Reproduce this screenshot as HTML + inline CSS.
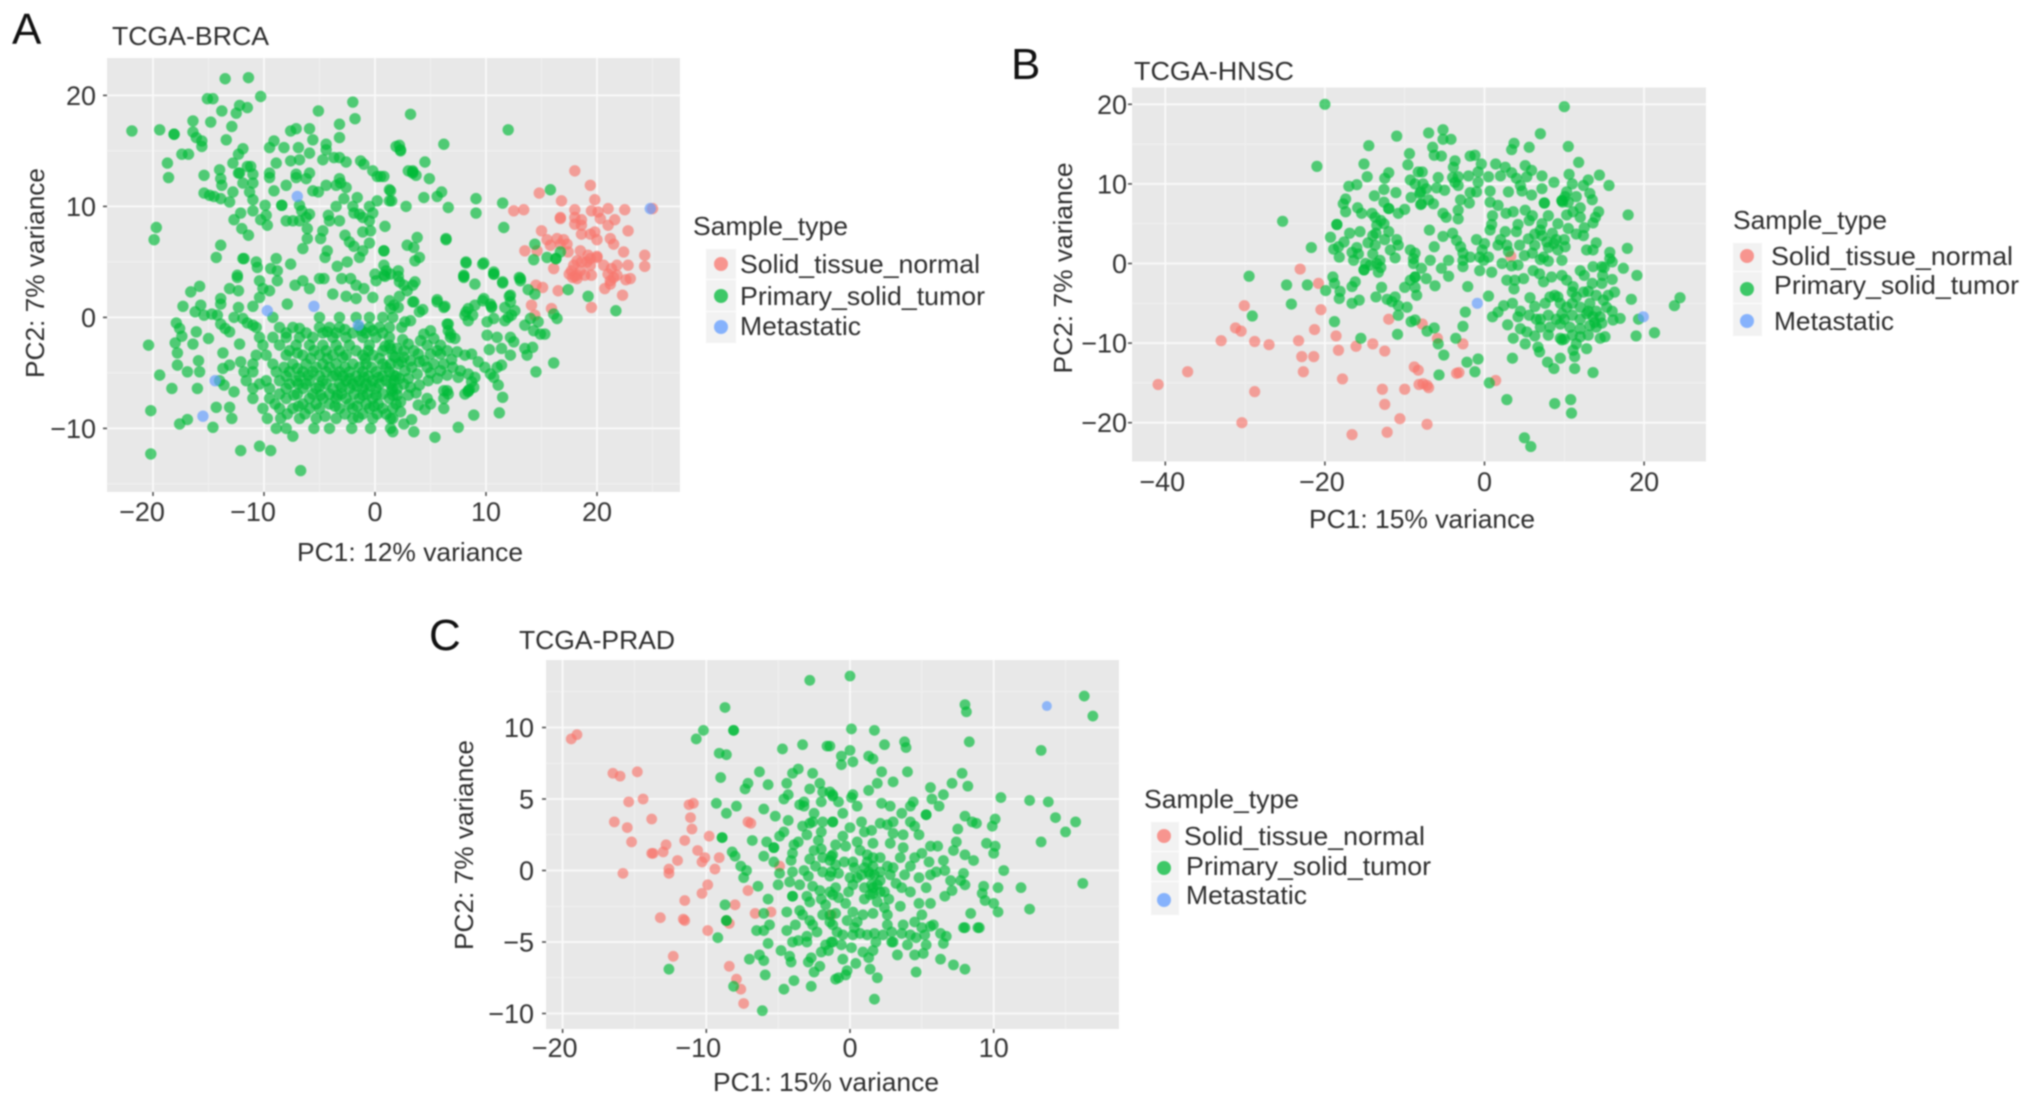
<!DOCTYPE html>
<html lang="en">
<head>
<meta charset="utf-8">
<title>PCA of TCGA samples</title>
<style>
html,body{margin:0;padding:0;background:#fff;width:2032px;height:1104px;overflow:hidden}
svg{display:block;filter:blur(0.8px)}
text{font-family:"Liberation Sans",Arial,sans-serif;fill:#2e2e2e}
.panel-letter{font-size:44px;fill:#111}
.title{font-size:26px}
.axis-title{font-size:26px;fill:#2e2e2e}
.legend-title{font-size:26px}
.legend-label{font-size:26px}
.tick-label{font-size:27px;fill:#333}
</style>
</head>
<body>
<svg xmlns="http://www.w3.org/2000/svg" width="2032" height="1104" viewBox="0 0 2032 1104">
  <rect x="0" y="0" width="2032" height="1104" fill="#fff"/>

  <text class="panel-letter" x="12" y="44">A</text>
  <text class="title" x="112" y="45" textLength="157" lengthAdjust="spacingAndGlyphs">TCGA-BRCA</text>
  <rect x="107" y="58" width="573" height="434" fill="#e8e8e8"/>
  <g id="panel-brca"></g>
  <text class="axis-title" x="410" y="561" text-anchor="middle" textLength="226" lengthAdjust="spacingAndGlyphs">PC1: 12% variance</text>
  <text class="axis-title" transform="translate(44,273) rotate(-90)" text-anchor="middle" textLength="210" lengthAdjust="spacingAndGlyphs">PC2: 7% variance</text>
  <g>
    <text class="legend-title" x="693" y="235" textLength="155" lengthAdjust="spacingAndGlyphs">Sample_type</text>
    <rect x="706" y="249" width="30" height="30" fill="#f2f2f2"/>
    <rect x="706" y="280" width="30" height="31" fill="#f2f2f2"/>
    <rect x="706" y="312" width="30" height="31" fill="#f2f2f2"/>
    <circle cx="721" cy="264" r="7" fill="#F8766D" fill-opacity="0.75"/>
    <circle cx="721" cy="296" r="7" fill="#00BA38" fill-opacity="0.75"/>
    <circle cx="721" cy="327" r="7" fill="#619CFF" fill-opacity="0.75"/>
    <text class="legend-label" x="740" y="273" textLength="240" lengthAdjust="spacingAndGlyphs">Solid_tissue_normal</text>
    <text class="legend-label" x="740" y="305" textLength="245" lengthAdjust="spacingAndGlyphs">Primary_solid_tumor</text>
    <text class="legend-label" x="740" y="335" textLength="121" lengthAdjust="spacingAndGlyphs">Metastatic</text>
  </g>

  <text class="panel-letter" x="1011" y="79">B</text>
  <text class="title" x="1134" y="80" textLength="160" lengthAdjust="spacingAndGlyphs">TCGA-HNSC</text>
  <rect x="1132" y="87.5" width="574" height="374" fill="#e8e8e8"/>
  <g id="panel-hnsc"></g>
  <text class="axis-title" x="1422" y="528" text-anchor="middle" textLength="226" lengthAdjust="spacingAndGlyphs">PC1: 15% variance</text>
  <text class="axis-title" transform="translate(1072,268) rotate(-90)" text-anchor="middle" textLength="211" lengthAdjust="spacingAndGlyphs">PC2: 7% variance</text>
  <g>
    <text class="legend-title" x="1733" y="229" textLength="154" lengthAdjust="spacingAndGlyphs">Sample_type</text>
    <rect x="1733" y="243" width="29" height="28" fill="#f2f2f2"/>
    <rect x="1733" y="272" width="29" height="31" fill="#f2f2f2"/>
    <rect x="1733" y="304" width="29" height="32" fill="#f2f2f2"/>
    <circle cx="1747" cy="256" r="7" fill="#F8766D" fill-opacity="0.75"/>
    <circle cx="1747" cy="289" r="7" fill="#00BA38" fill-opacity="0.75"/>
    <circle cx="1747" cy="321" r="7" fill="#619CFF" fill-opacity="0.75"/>
    <text class="legend-label" x="1771" y="265" textLength="242" lengthAdjust="spacingAndGlyphs">Solid_tissue_normal</text>
    <text class="legend-label" x="1774" y="294" textLength="245" lengthAdjust="spacingAndGlyphs">Primary_solid_tumor</text>
    <text class="legend-label" x="1774" y="330" textLength="120" lengthAdjust="spacingAndGlyphs">Metastatic</text>
  </g>

  <text class="panel-letter" x="429" y="650">C</text>
  <text class="title" x="519" y="649" textLength="156" lengthAdjust="spacingAndGlyphs">TCGA-PRAD</text>
  <rect x="546" y="660" width="573" height="369" fill="#e8e8e8"/>
  <g id="panel-prad"></g>
  <text class="axis-title" x="826" y="1091" text-anchor="middle" textLength="226" lengthAdjust="spacingAndGlyphs">PC1: 15% variance</text>
  <text class="axis-title" transform="translate(473,845) rotate(-90)" text-anchor="middle" textLength="210" lengthAdjust="spacingAndGlyphs">PC2: 7% variance</text>
  <g>
    <text class="legend-title" x="1144" y="808" textLength="155" lengthAdjust="spacingAndGlyphs">Sample_type</text>
    <rect x="1151" y="822" width="28" height="29" fill="#f2f2f2"/>
    <rect x="1151" y="852" width="28" height="29" fill="#f2f2f2"/>
    <rect x="1151" y="882" width="28" height="33" fill="#f2f2f2"/>
    <circle cx="1164" cy="836" r="7" fill="#F8766D" fill-opacity="0.75"/>
    <circle cx="1164" cy="868" r="7" fill="#00BA38" fill-opacity="0.75"/>
    <circle cx="1164" cy="900" r="7" fill="#619CFF" fill-opacity="0.75"/>
    <text class="legend-label" x="1184" y="845" textLength="241" lengthAdjust="spacingAndGlyphs">Solid_tissue_normal</text>
    <text class="legend-label" x="1186" y="875" textLength="245" lengthAdjust="spacingAndGlyphs">Primary_solid_tumor</text>
    <text class="legend-label" x="1186" y="904" textLength="121" lengthAdjust="spacingAndGlyphs">Metastatic</text>
  </g>
</svg>

<script>
const brcaXTicks=[-20,-10,0,10,20];
const brcaYTicks=[-10,0,10,20];
const brcaXMinor=[-15,-5,5,15,25];
const brcaYMinor=[-15,-5,5,15];
const hnscXTicks=[-40,-20,0,20];
const hnscYTicks=[-20,-10,0,10,20];
const hnscXMinor=[-30,-10,10];
const hnscYMinor=[-15,-5,5,15];
const pradXTicks=[-20,-10,0,10];
const pradYTicks=[-10,-5,0,5,10];
const pradXMinor=[-15,-5,5,15];
const pradYMinor=[-7.5,-2.5,2.5,7.5,12.5];

const brcaNormal=[[18,13.2],[19.4,11.9],[14.8,11.2],[16.8,10.5],[19.8,10.6],[12.5,9.6],[13.4,9.7],[18,9.7],[19.5,9.6],[20.1,9.5],[21,9.8],[22.5,9.7],[16.7,9],[16.7,8.9],[18,9],[18.6,8.8],[18,8.4],[20.3,8.9],[21.6,8.8],[21,8.3],[22.8,7.8],[18.6,8.3],[15,7.8],[19.8,7.7],[19.4,7.5],[21.2,7.1],[21.5,6.6],[20,7],[18.6,7.5],[15.5,7],[16.4,7.1],[17,7],[17.3,6.6],[15.8,6.5],[16.7,6.6],[13.5,6],[14.6,6],[17.4,5.9],[18.5,6],[19.2,5.6],[20,5.5],[19.1,5],[20.6,4.7],[21.3,4.4],[21.8,4.7],[22.4,5.9],[22.8,4.7],[24.3,5.6],[24.3,4.6],[17.9,4.7],[17.7,4.2],[16.1,4.4],[19.4,5.3],[20,5.4],[18.2,5.1],[18.6,5],[19.4,4.7],[17.8,3.6],[17.5,3.9],[18,3.7],[18.2,3.8],[18.2,3.5],[18.5,4.2],[18.9,3.8],[19.5,3.8],[21,3.9],[21.8,3.8],[22.6,3.4],[21.2,3],[21.5,3.6],[21.2,3.3],[20.7,2.6],[23,3.5],[22.3,2],[19.5,0.9],[14.5,2.9],[15.1,2.7],[16.5,2.4],[14.1,1.1],[15.9,0.8],[14.4,0.2],[25,9.8]];

const brcaTumor=[[-21.9,16.8],[-19.4,16.9],[-18.1,16.5],[-18.1,16.5],[-16.4,17.7],[-16.4,16.7],[-16.1,16.2],[-15.6,15.9],[-15.6,15.4],[-17.4,14.7],[-16.8,14.7],[-18.7,13.9],[-18.6,12.6],[-19.7,8.1],[-19.9,7],[-13.5,21.5],[-11.4,21.6],[-15.1,19.7],[-14.6,19.7],[-10.3,19.9],[-13.8,18.6],[-12.5,18.4],[-12.2,19.1],[-11.5,18.9],[-14.8,17.6],[-12.9,17.2],[-13.4,16],[-15.4,12.8],[-14,13.3],[-13.9,12.5],[-13.8,11.9],[-15.4,11.2],[-14.9,11],[-14.5,10.9],[-13.9,10.7],[-13.1,10.4],[-12.8,11.3],[-12.3,14.7],[-11.9,15.2],[-12.8,13.9],[-12.3,13],[-11.5,13.6],[-11.2,13.6],[-12.2,13],[-11.9,12.1],[-11,12.9],[-11,12.1],[-11.3,11.3],[-11,10.6],[-12.1,9.4],[-12.7,8.8],[-11,9.6],[-10.3,8.8],[-9.9,10.1],[-9.8,9.2],[-9.7,8.3],[-12,8],[-11.4,7.4],[-13.9,6.5],[-14.3,5.4],[-11.9,5.3],[-11.8,5.3],[-10.7,5],[-10.6,4.5],[-9.4,4.4],[-8.9,5.3],[-7.6,4.8],[-8.8,4.2],[-12.4,3.8],[-9.5,15.3],[-9.1,15.9],[-8.2,15.3],[-6.9,15.3],[-5.9,17],[-5.6,16],[-5.9,14.8],[-7.1,17],[-7.6,16.8],[-4.4,15.6],[-4.4,15.1],[-4.7,14.2],[-3.7,14.4],[-3.2,14.4],[-2.6,14],[-8.9,13.9],[-9.5,13],[-9.5,12.6],[-7.6,14.1],[-6.8,14.2],[-7.1,12.6],[-7.1,12.9],[-5.9,13],[-6.2,12.5],[-8,11.9],[-9.1,11.4],[-5.6,11.4],[-5.1,11.3],[-4.4,11.9],[-3.5,11.9],[-3.2,12.5],[-3.1,12.1],[-2.6,11.7],[-8.4,10.1],[-8.4,10.1],[-6.8,10.1],[-6.6,9.6],[-5.9,9.3],[-6.8,8.7],[-7.4,8.7],[-8,8.7],[-6.2,9],[-2.8,10.7],[-3.5,10],[-2,10],[-1.6,10.8],[-1.9,9.4],[-1.4,9.3],[-1.1,9],[-0.5,8.7],[-0.2,9.4],[0.2,10.5],[1.3,11.5],[1.3,10.5],[-0.5,10],[0.9,8.2],[-4.2,9.2],[-4.1,8.7],[-3.2,8.7],[-6.1,8],[-6.1,7.1],[-4.7,7.8],[-4.9,7.1],[-6.5,6.2],[-2.7,7.4],[-2.3,6.8],[-1.9,6.4],[-1.1,6],[-0.5,6.7],[-1.1,7.7],[-0.4,7.8],[0.8,6],[0.8,6],[-1.4,5.4],[-4.3,6],[-4.5,5.4],[-3.4,4.6],[-2.5,5],[0,3.9],[0.8,4.7],[1,4.2],[-5.1,18.6],[-2,19.4],[-1.8,17.9],[-3.2,17.4],[-3.2,16.2],[-1.3,14.1],[-1,13.8],[-0.2,13.2],[0.2,12.7],[0.8,12.7],[0.5,12.7],[1.9,15.4],
[3.2,18.3],[2.2,15.5],[2.3,15.1],[2.3,15],[6.2,15.6],[4.5,14],[3,13.2],[3.4,13.2],[3.4,13.1],[3.4,13],[3.7,12.8],[4.9,12.5],[6,11.3],[5.6,10.9],[4.4,10.8],[2.8,10],[1.4,11.4],[1.5,10.5],[6.6,9.9],[9.1,10.7],[9.1,9.4],[11.5,10.3],[11.6,8.1],[12,16.9],[15.8,11.5],[6.4,7.1],[6.4,7],[3.8,7.2],[2.9,6.5],[3.5,6.3],[4,5.4],[3.6,5.1],[8.2,5],[9.8,4.9],[10.7,4.1],[2.1,4.2],[8,3.8],[13,3.6],[14.4,6.6],[14.3,5.2],[15.5,5.4],[16.3,5.3],[16.3,5.3],[16.7,5.9],
[17.4,2.5],[19.2,1.9],[21.7,0.6],[14.4,2.1],[13.8,2.5],[13.1,3.5],[11.5,3.2],[10.7,3.9],[9,3],[8,3.7],[12.2,2],[12.2,1.4],[12.6,0.6],[12,0],[12.3,0.2],[11.7,-0.3],[16.1,0.3],[16.4,-0.1],[14.7,-0.4],[14,-0.1],[13.5,-0.7],[14.3,-1.2],[15.3,-1.5],[14.9,-1.5],[9.8,1.7],[10.4,1.2],[10.5,0.9],[8.4,0.8],[9,1.1],[8.1,0.2],[8.4,-0.3],[10.1,-0.4],[10.7,-0.1],[10.1,-1.6],[11,-1.8],[12.2,-1.8],[12.5,-2.2],[10.3,-2.9],[11.4,-2.8],[12.2,-3.4],[13.5,-2.8],[14.2,-2.7],[13.7,-3.4],[16.1,-4.1],[14.5,-4.9],[3.5,1.4],[4.3,0.7],[5.6,1.6],[6.3,1],[2.2,3.2],[3.6,3.2],[2.9,2.4],[1.7,1.1],[2.1,0.9],[2.7,-0.4],[3.2,-0.3],[2.4,-0.9],[6.5,-0.6],[6.6,-1.2],
[4.4,-1.5],[5,-1.2],[4.1,-2.1],[5.3,-1.9],[4.7,-2.5],[5.9,-2.5],[6.8,-1.8],[7.2,-1.9],[6.5,-3],[5.9,-3.3],[5,-3.3],[3.9,-3.3],[4.4,-3.9],[3.5,-3],[2.6,-3],[2,-2.8],[1.4,-2.8],[1.8,-3.6],[2.6,-3.6],[3.2,-3.9],[2.1,-4.2],[1.4,-4.2],[2.7,-4.8],[1.7,-5.2],[3.8,-5.1],[4.7,-4.5],[5.3,-4.2],[5.9,-4.8],[5.6,-5.5],[4.8,-5.7],[4,-6.1],[3.2,-6.3],[2.6,-6],[2,-6.4],[1.5,-6.6],[7.4,-3.1],[8.1,-3.4],[8.7,-3.3],[9.3,-4],[7.7,-4.8],[7.5,-5.4],[8.4,-5.1],[9,-5.4],[8.7,-5.8],[9.9,-4.5],[10.4,-5.1],[11,-4.5],[11.4,-4.3],[10.7,-5.4],[8.4,-6.6],[8.5,-6.5],[8.4,-6.7],[8.9,-6.3],[8.1,-6.9],[11.1,-6.1],[11.5,-7.2],[6.2,-6.6],[6.6,-6.9],[6.2,-7.3],[6.5,-6.6],[4.7,-7.3],[5,-7.8],[4.5,-8.3],[6.2,-8.2],[3.9,-7.9],[2.3,-7.6],[2.3,-8.5],[1.6,-9.1],[3.3,-9.2],[2.6,-9.6],[3.5,-10.3],[1.6,-10.3],[5.4,-10.8],[7.5,-9.9],[8.9,-8.8],[11.2,-8.6],[3,-2.4],[5.6,-3],[6.9,-3.8],[7,-4.5],[6.5,-5.2],[6.2,-4.2],[3.3,-4.5],[4,-4],[2.2,-5.5],[3,-5.5],[5,-5],[2,-7],[3,-7],[3.7,-6.8],[2.5,-2],
[2.1,3.7],[3.4,2.9],[2.6,2.9],[1.4,3.9],[0.9,3.7],[2.2,1.9],[3.4,1.4],[4,0.5],[5.6,1.4],[6.2,0.9],[8.2,4.9],[9.7,4.8],[10.7,3.9],[11.5,3.1],[8,3.6],[13.1,3.3],[9.7,1.5],[10.5,1],[8.2,0.5],[8.8,0.2],[11.7,0.9],[12.1,1.9],[6.6,-0.6],[6.8,-1.5],
[-20.4,-2.5],[-19.4,-5.2],[-18.3,-6.4],[-20.2,-8.4],[-20.2,-12.3],[-17.6,-9.6],[-16.9,-9.2],[-14.3,-8.1],[-13.1,-8.1],[-12.9,-9.1],[-14.6,-9.9],[-12.1,-12],[-10.4,-11.6],[-9.4,-12],[-7.4,-10.7],[-6.7,-13.8],[-15.8,2.8],[-16.6,2.3],[-13.1,2.6],[-12.3,2.4],[-13.9,1.7],[-13.9,1.2],[-17.3,1],[-15.7,1.1],[-16.2,0.5],[-15.4,0.2],[-14.7,0.3],[-14.2,0.2],[-12.3,0.9],[-12.7,0],[-11,1],[-17.9,-0.5],[-17.6,-1],[-17.4,-1.7],[-18,-2.3],[-17.8,-3.2],[-16.1,-1.3],[-15,-1.9],[-16.4,-2.4],[-13.7,-3.2],[-13.9,-0.6],[-13.5,-1],[-13.1,-1.3],[-12.2,-2.4],[-11.9,-0.1],[-11.5,-0.5],[-11,-0.7],[-15.9,-3.9],[-17.8,-4.3],[-16.9,-4.9],[-15.8,-4.9],[-13.7,-4.6],[-13.1,-4.3],[-12.1,-4],[-16,-6.4],[-13.6,-6.1],[-12.7,-6.7],[-14,-5.7],[-12.4,3.6],[-10.4,3.3],[-8.8,3.3],[-10.1,2.6],[-9.5,2.4],[-10.4,1.8],[-7.9,1.2],[-7.2,2.9],[-6.5,3.3],[-5.9,2.6],[-5,3.5],[-4.6,3.5],[-3.8,2.1],[-2.6,1.9],[-1.7,1.7],[-3,3.5],[-2.2,3.5],[-1.7,2.9],[-1,2.6],[-0.2,1.8],[0.8,3.8],[0.1,3.3],[1.3,1.5],[1.4,0.8],
[-9.2,0],[-5,0],[-3.2,0],[-1.7,0],[-0.5,0],[0.7,0],[1.6,0],
[-10.7,-0.9],[-8.6,-0.9],[-7.4,-0.9],[-5,-0.9],[-4.1,-0.9],[-3.2,-0.9],[-1.4,-0.9],[-0.5,-0.9],[0.4,-0.9],[1.3,-0.9],
[-10.4,-1.8],[-9.2,-1.8],[-8,-1.8],[-6.8,-1.8],[-5.6,-1.8],[-3.8,-1.8],[-2.6,-1.8],[-1.1,-1.8],[0.1,-1.8],[1.3,-1.8],
[-10.1,-2.5],[-8.6,-2.5],[-7.1,-2.5],[-5.9,-2.5],[-4.7,-2.5],[-3.5,-2.5],[-2.3,-2.5],[-0.5,-2.5],[1.3,-2.5],
[-10.7,-3.4],[-9.8,-3.4],[-8,-3.4],[-6.5,-3.4],[-5,-3.4],[-3.8,-3.4],[-2.6,-3.4],[-1.1,-3.4],[-0.2,-3.4],[1.6,-3.4],
[-11,-4.2],[-9.2,-4.2],[-7.4,-4.2],[-6.2,-4.2],[-4.7,-4.2],[-3.5,-4.2],[-2,-4.2],[-0.8,-4.2],[0.7,-4.2],
[-11.8,-4.9],[-11,-4.9],[-8.9,-4.9],[-7.7,-4.9],[-6.5,-4.9],[-5.6,-4.9],[-4.4,-4.9],[-3.2,-4.9],[-2.3,-4.9],[-1.1,-4.9],[0.1,-4.9],[1.3,-4.9],
[-11.6,-5.7],[-9.8,-5.7],[-8.6,-5.7],[-7.1,-5.7],[-5.9,-5.7],[-4.7,-5.7],[-2.6,-5.7],[-1.4,-5.7],[-0.2,-5.7],[1,-5.7],[1.7,-5.7],
[-11,-6.4],[-9.5,-6.4],[-8,-6.4],[-6.5,-6.4],[-5.3,-6.4],[-3.8,-6.4],[-2.3,-6.4],[-1.1,-6.4],[0.1,-6.4],[1.6,-6.4],
[-11,-7.3],[-9.5,-7.3],[-8,-7.3],[-5.9,-7.3],[-4.7,-7.3],[-3.5,-7.3],[-2.6,-7.3],[-1.4,-7.3],[-0.2,-7.3],[1.3,-7.3],
[-10.1,-8.2],[-8.6,-8.2],[-7.4,-8.2],[-5.9,-8.2],[-5,-8.2],[-3.2,-8.2],[-2,-8.2],[-0.5,-8.2],[0.7,-8.2],[1.6,-8.2],
[-9.7,-9.1],[-8.5,-9.1],[-6.8,-9.1],[-5.3,-9.1],[-3.5,-9.1],[-2,-9.1],[-0.2,-9.1],[1.4,-9.1],
[-8.9,-10],[-8,-10],[-5.5,-10],[-4.1,-10],[-2.1,-10],[-0.4,-10],[1.4,-10],
[-8,-1.4],[-6.2,-1.4],[-4.7,-1.4],[-3.5,-1.4],[-2,-1.4],[-0.8,-1.4],[0.7,-1.4],
[-7.7,-3],[-5.5,-3],[-4.4,-3],[-3.2,-3],[-1.7,-3],[-0.6,-3],[0.7,-3],
[-8.2,-4.5],[-5.3,-4.5],[-4.1,-4.5],[-2.7,-4.5],[-1.4,-4.5],[-0.3,-4.5],[1,-4.5],
[-8,-5.3],[-6.8,-5.3],[-5,-5.3],[-3.8,-5.3],[-2.9,-5.3],[-1.7,-5.3],[-0.6,-5.3],[0.7,-5.3],[1.9,-5.3],
[-10.4,-6],[-7.7,-6],[-6.2,-6],[-4.4,-6],[-3.2,-6],[-2,-6],[-0.8,-6],[0.4,-6],[1.4,-6],
[-8.6,-6.9],[-7,-6.9],[-5.6,-6.9],[-4.1,-6.9],[-3,-6.9],[-1.9,-6.9],[-0.7,-6.9],[0.7,-6.9],
[-9,-7.8],[-6.5,-7.8],[-5.3,-7.8],[-4.1,-7.8],[-2.3,-7.8],[-0.8,-7.8],[0.3,-7.8],[1.9,-7.8],
[-7.9,-8.7],[-6.3,-8.7],[-2.7,-8.7],[-1.1,-8.7],[0.2,-8.7],[1,-8.7],
[-6.8,-1],[-4.3,-1.3],[-2.7,-1.1],[-1.2,-1.2],[-0.2,-1.2],[-7,-3.2],[-5.8,-3.7],[-4.3,-3.7],[-2.9,-3.6],[-0.9,-3.7],[0.4,-3.7],[-7,-4.6],[-6,-5.2],[-3.5,-5.2],[-2.3,-5.5],[-1,-5.4],[0.3,-5.4],[-6.9,-6],[-5,-6.2],[-3,-6.3],[-1.6,-6.2],[-0.4,-6.2],[-7.3,-7],[-4.9,-7],[-3.4,-7],[-1.1,-7],[0.1,-7],[-6.9,-8],[-3.6,-8],[-1.6,-8],[-0.1,-8],[-4.5,-8.9],[-1.5,-9],[1.6,-7],[2.4,-4],[0.9,-2.6]];

const brcaMetastatic=[[-7,10.9],[-9.7,0.6],[-5.5,1],[-1.5,-0.7],[-14.4,-5.7],[-15.5,-8.9],[24.8,9.8]];

const hnscNormal=[[-40.9,-15.2],[-37.2,-13.6],[-33,-9.7],[-31.2,-8.1],[-30.5,-8.5],[-30.1,-5.3],[-28.8,-9.8],[-27,-10.2],[-28.8,-16.1],[-30.4,-20],[-23.1,-0.7],[-20.8,-2.5],[-20.5,-5.8],[-21.3,-8.3],[-23.3,-9.7],[-22.9,-11.7],[-21.4,-11.7],[-22.7,-13.6],[-18.6,-9.1],[-18.3,-10.9],[-17.8,-14.5],[-16.1,-10.4],[-14,-10.1],[-12.5,-11],[-12,-7],[-12.8,-15.8],[-12.5,-17.7],[-10.6,-19.5],[-16.6,-21.5],[-12.2,-21.2],[-10,-15.8],[-8.8,-13],[-8.3,-13.4],[-8.2,-15.2],[-7.8,-7.6],[-5.9,-9.4],[-2.7,-10.1],[-3.5,-13.8],[-3.2,-13.7],[-7.7,-15.1],[-7,-15.6],[-7.2,-15.3],[1.4,-14.7],[-7.2,-20.2],[3.3,0.9]];

const hnscTumor=[[-20,20],[-11,16],[-14.5,14.8],[-9.4,13.8],[-15.1,12.5],[-21,12.2],[-9.6,12.4],[-8.3,11.5],[-12,11.4],[-12.5,10.7],[-14.7,10.9],[-9.3,10.5],[-8.7,10],[-16,9.9],[-17,9.7],[-12.6,9.3],[-11.1,8.9],[-8,9],[-9.2,8.3],[-13.8,8.5],[-17.4,8.1],[-17.7,7.5],[-12.6,7.7],[-8,7.4],[-17.4,6.5],[-15.9,7],[-15.4,6.3],[-14.1,6.3],[-12,6.9],[-12,6.9],[-10.8,6.3],[-10,6.8],[-13.7,5.8],[-13,5.4],[-12.6,5],[-13.5,4.8],[-25.3,5.3],[-18.5,4.9],[-18.5,4.9],[-13.6,3.8],[-15.6,4],[-16.9,3.8],[-19.3,3.3],[-17.6,2.7],[-18.3,2.1],[-18.9,1.8],[-21.7,2],[-18.2,0.8],[-16.6,1.4],[-15.8,1.2],[-16.4,0.4],[-14.6,2.6],[-13.7,2.3],[-11.8,1.7],[-10.8,2.3],[-9.3,1.7],[-8.7,1.3],[-11.2,0.7],[-8.9,0.6],[-8.9,0],[-14.9,0],[-14.3,-0.2],[-15.1,-0.8],[-15.1,-0.8],[-13.1,0.4],[-13.3,-1.1],[-13.5,0],[-19,-1.7],[-18.8,-2.5],[-16.6,-2.9],[-16.2,-2.3],[-18.1,-3.5],[-18.2,-4.4],[-16.6,-5],[-15.7,-4.6],[-12.9,-3],[-13.6,-4.2],[-12.2,-4.5],[-11.2,-4.2],[-11.6,-4.8],[-10.8,-5.3],[-9.7,-5.5],[-10.8,-6.5],[-9.3,-2.1],[-8.7,-1.7],[-8.7,-1.7],[-8.7,-3],[-8.5,-4],[-29.5,-1.6],[-24.8,-2.7],[-22.2,-2.7],[-19.9,-3.4],[-24.2,-5.1],[-29.1,-6.6],[-18.8,-7.3],[-15.5,-9.4],[-10.9,-8.9],[-9.2,-7.3],[-8.7,-7.1],
[10,19.7],[-7,16.4],[-5.2,16.8],[-5.2,15.6],[-4.2,15.6],[7,16.3],[3.7,15.1],[3.4,14.3],[5.6,14.6],[10.5,14.7],[-6.5,14.6],[-6.3,13.6],[-5.4,13.5],[-1.8,13.5],[-1.2,13.6],[11.8,12.7],[-0.4,12.5],[1.4,12.5],[2.6,12.1],[-3.7,12.9],[-3.9,12.1],[-0.8,11.5],[-7.8,11.5],[5.1,12.3],[5.9,11.7],[3.4,11.4],[4,10.7],[5.3,10.9],[7.2,11],[0.5,10.9],[10.6,11.2],[14.4,11.1],[13,10.5],[8.7,10.2],[15.6,9.8],[-5.8,10.8],[-3.3,10.9],[-3.7,10.2],[-3.3,9.8],[-0.8,10.2],[-7.7,10],[-7.3,9.4],[-8.1,8.8],[-5,9.2],[4.5,9.8],[4.7,9.1],[5.9,8.6],[7.2,9.4],[0.7,9.1],[-1.8,8.9],[12.4,9.8],[13.2,8.8],[11.5,8.4],[10.3,9],[-1.9,7.6],[0.7,7.7],[1.7,7.3],[7.5,7.6],[7.5,7.6],[9.7,7.9],[9.7,7.9],[9.8,7.7],[10.1,8.4],[10.5,7.7],[-6.4,7.5],[-7.9,7.5],[-5.2,6.3],[-4.8,5.8],[-3.3,6.7],[-3.3,5.6],[2.7,6.3],[3.6,6.5],[5.1,6.7],[5.6,5.4],[14.3,6.5],[13.9,5.8],[13.6,5.1],[18,6.1],[11.1,6.5],[10.3,6.1],[12,5.8],[9.2,5],[10.5,4.4],[7.2,5],[0.9,4.9],[0.7,4.2],[2.6,4],[4.2,4.9],[4,4],[6.3,3.7],[7.2,3.5],[12.4,3.5],[11.5,3.7],[-6.9,4.2],[-5.2,3.4],[-4,3.8],[-3.5,2.9],[-6.3,2.1],[-3,2.1],[-2.7,1.3],[17.9,1.9],[-0.3,1.7],[-0.6,0.8],[0.5,0.8],[-0.1,0.4],[1.7,2.3],[2.8,2.3],[4.4,2.3],[5.5,3.1],[6.3,2.3],[7.8,2.7],[8.7,2.5],[10.1,2.1],[9.2,1.7],[7.4,0.8],[9.7,0.4],[12.8,1.7],[13.6,1.7],[15.7,1.4],[15.7,0.6],[-2.7,0.4],[-1.8,0.8],[-4.5,0.4],[-6.8,0.4],[2.2,0],[3.4,-0.3],[4.2,-0.2],[6.1,-0.9],[6.9,-1.3],[8.4,-1.7],[9.7,-1.5],[10.3,-2.1],[12,-0.9],[13.6,-0.4],[14.7,-0.4],[16,0.2],[17.4,-0.6],[19.1,-1.5],[14.8,-1.5],[14.7,-2.5],[-2.7,-0.4],[-5.4,-0.6],[-4.5,-1.6],[-0.6,-0.9],[0.9,-1.1],[-7.9,-0.6],[-7.3,-1.9],[-6.2,-2.8],[-2.1,-2.9],[2.8,-2.1],[3.8,-2.1],[4.9,-1.9],[7.4,-2.3],[3.7,-3.2],[8.8,-4],[9.2,-4.2],[11.1,-2.9],[12.4,-3.6],[11.5,-4.2],[16.3,-3.6],[18.4,-4.5],[14.9,-4.6],[15.3,-5.5],[0.5,-4.1],[2.4,-5.3],[1.7,-6.1],[1,-6.7],[5.7,-4.3],[6.3,-5.4],[5.6,-6.5],[7.6,-5],[8.2,-4.2],[9.7,-6.3],[10.3,-5.5],[13.2,-5],[12.8,-6.3],[13.6,-6.7],[14.5,-6.7],[14.7,-7.5],[16.1,-7.1],[17,-6.9],[-2.4,-6.1],[-2.7,-7.9],[4.2,-6.7],[2.9,-7.7],[4.5,-8.2],[5.3,-8.6],[7,-8],[8.2,-8],[9.5,-7.6],[10.7,-8],[12,-8.2],[13.2,-7.8],[13.8,-7.4],[3.6,-9.4],[6.3,-9.1],[9.5,-9.4],[9.7,-9.6],[23.8,-5.3],[24.5,-4.3],[19.3,-7],[19,-9.1],[21.3,-8.7],[14.5,-9.4],[15.1,-9.2],[11.5,-10.1],[12.8,-10.7],[11.1,-10.9],[11.3,-11.7],[6.7,-10.5],[6.9,-11.1],[5.1,-10.1],[9.5,-11.9],[7.9,-12.4],[8.7,-13.2],[11.3,-13.2],[13.6,-13.7],[3.5,-11.9],[-6.3,-8.1],[-7.2,-8.5],[-5.8,-10.1],[-5.1,-11.5],[-3.6,-9.4],[-2.2,-12.4],[-0.8,-12],[-1.2,-13.6],[-5.7,-14],[0.6,-15],[2.8,-17.1],[8.8,-17.6],[10.8,-17.1],[10.9,-18.8],[5,-21.9],[5.8,-23],
[11,-5],[12,-5.5],[13,-6],[14,-6],[12,-7],[10,-7],[11,-6.5],[9,-7],[8,-6.5],[7,-7],[6.5,-7],[9.5,-5],[11,-3.6],[13,-3.5],[14,-4],[13.5,-2.5],[12.5,-1.5],[7,0.5],[8,0.3],[5,1],[6,1.3],[8,2],[9,3],[8.5,3.8],[10,3],[3,1.5],[-1,3],[-11,3],[-12,4],[-10,-3],[-16,2],[-14,1.2],[-13,-0.5],[-14,3.5],[-12.5,3],[-7,8],[-6,9.5],[-3,8],[-4,10.8],[-2,11],[-1,9],[2,11],[3,9],[1,6],[2,3],[0,2.5],[6,6],[8,6],[7,4.2],[11,10],[12,7],[13.5,8],[12.5,4.5],[14,2.6],[15,-0.5],[16,-2],[15.5,-4],[14,-8],[16,-6],[3.5,-5],[4.5,-6],[8,-9],[11,-9],[13,-9],[10,-9.5],[12,-9.2]];

const hnscMetastatic=[[-0.9,-5],[19.9,-6.7]];

const pradNormal=[[-19.4,9.2],[-19,9.5],[-16.5,6.8],[-16,6.6],[-14.8,6.9],[-15.4,4.8],[-14.4,5],[-16.4,3.4],[-15.5,3],[-13.8,3.6],[-15.2,2],[-15.8,-0.2],[-13.8,1.2],[-13.7,1.2],[-13,1.3],[-12.8,1.8],[-12,0.7],[-12.6,0.1],[-12.6,-0.2],[-11.5,2.1],[-9.8,2.4],[-11.2,4.6],[-10.9,4.7],[-11.1,3.7],[-11,2.9],[-10.6,1.4],[-10.1,0.9],[-10.3,0.6],[-9.1,0.9],[-9.4,0.1],[-9.9,-1],[-10.3,-1.6],[-11.5,-2.1],[-13.2,-3.3],[-11.6,-3.4],[-11.5,-3.5],[-9.9,-4.2],[-8,-2.4],[-8.6,-3.5],[-8.4,-3.7],[-7.1,-1.4],[-6.6,-3],[-5.5,-2.9],[-7.1,3.4],[-6.9,3.3],[-4.9,0.3],[-12.3,-6],[-8.4,-6.7],[-7.9,-7.6],[-7.6,-8.3],[-7.4,-9.3],[-1.3,-3.1]];

const pradTumor=[[-2.8,13.3],[-8.7,11.4],[-10.2,9.8],[-10.7,9.2],[-8.1,9.8],[-8.1,9.8],[-9.1,8.2],[-8.6,8.1],[-9,6.5],[-4.7,8.5],[-3.3,8.8],[-1.6,8.7],[-6.3,6.9],[-7.1,6.1],[-7.3,5.7],[-5.7,6],[-4.4,6.1],[-4,6.8],[-3.6,7.1],[-2.6,6.8],[-2.8,5.7],[-2.1,6.1],[-1.9,5.5],[-1.4,5.5],[-1.2,5.2],[-4.6,5],[-4.3,5.3],[-9.3,4.7],[-8.6,4],[-7.9,4.5],[-6,4.3],[-5.2,3.8],[-3.5,4.6],[-3.2,4.5],[-2.5,4],[-2.6,3.4],[-1.9,3.4],[-1.2,3.4],[-4.6,2.7],[-4.9,2.4],[-3.3,3.1],[-2.8,3.3],[-2,2.7],[-2.2,2.1],[-8.9,2.3],[-8.9,2.3],[-6.8,2.1],[-5.3,1.6],[-5.3,1.6],[-3.9,1.8],[-4,1.2],[-2.5,1.4],[-8.2,1.3],[-8,1],[-7.6,0.3],[-7.2,0],[-7.4,-0.5],[-5.3,0.6],[-4.1,0.7],[-4,-0.1],[-4.9,-0.2],[-1.9,0.9],[-1.4,0.7],[-1.2,1.1],[-2.4,0.3],[-2.9,-0.4],[-2.6,-1.1],[-2.1,-1.4],[-1.3,-0.1],[-1.9,-0.1],[-1.2,-1.7],[-6.4,-1.1],[-4,-1.8],[-4,-1.8],[-2.8,-2.2],[-8.7,-2.4],[-8.6,-3.5],[-8.6,-3.5],[-4.4,-2.9],[-3.5,-2.8],[-3.3,-3.1],[-2.8,-3.5],[-2.3,-4.3],[-1.7,-2.4],[-1.9,-3.1],[-1.2,-3.8],[-1.4,-3.1],[-2.6,-3.8],[-6.5,-4.2],[-6,-4.2],[-5.6,-3.8],[-5.7,-5.1],[-9.2,-4.7],[-12.6,-6.9],[-4,-5],[-3.6,-4.9],[-4.8,-5.6],[-7,-6.2],[-6.3,-5.9],[-6,-6.3],[-4.2,-6],[-4.1,-6.4],[-2.9,-6.4],[-2.7,-6.1],[-2.1,-6.7],[-2.5,-7.1],[-2,-5.7],[-1.7,-5.2],[-1.2,-5],[-1,-7.6],[-5.9,-7.3],[-3.9,-7.7],[-4.6,-8.3],[-2.7,-8.1],[-8.1,-8.1],[-6.1,-9.8],
[0,13.6],[8,11.6],[8.1,11.1],[16.3,12.2],[16.9,10.8],[0.1,9.9],[1.7,9.8],[2.4,8.8],[3.8,9],[3.9,8.6],[8.3,9],[13.3,8.4],[-1.4,8.7],[0,8.4],[-0.6,8],[-0.6,7.4],[0.2,7.6],[1.3,8],[1.6,7.8],[2.2,6.9],[4,6.9],[3,6.2],[1.9,6.1],[1.3,5.6],[7.8,6.8],[7.1,6.1],[8.2,5.9],[5.6,5.8],[6.5,5.3],[5.7,5],[6.2,4.5],[10.5,5.1],[12.5,4.9],[13.8,4.8],[14.3,3.7],[15.7,3.4],[15,2.7],[13.3,2],[0.2,5.3],[0.1,5.1],[-1.2,5.3],[-0.8,4.8],[2.2,4.7],[2.8,4.5],[4.4,4.8],[4.2,4.5],[5.3,3.9],[5.3,3.9],[8,3.8],[8.5,3.4],[8.8,3.3],[7.5,2.9],[10.1,3.6],[9.9,3.1],[3.6,4],[3,3.4],[2.6,3.2],[2.1,3.3],[1.5,2.8],[0.8,3.4],[1,2.7],[4.2,3.4],[4.5,3.1],[4.8,2.5],[-1.2,3.4],[-0.5,2.4],[-0.3,1.7],[-1.3,1],[-1,0.4],[-0.8,-0.2],[-1.4,-0.4],[7.4,2],[7.2,1.4],[8,1.1],[8.6,0.7],[6.5,0.7],[5.6,1.7],[6.1,1.7],[5.5,0.6],[5.6,-0.3],[6,-0.1],[9.5,1.9],[10.1,1.7],[10,1.2],[10.7,0],[7.9,-0.2],[7.7,-0.7],[8,-1],[7,-0.7],[6.6,-1.8],[11.9,-1.2],[10.3,-1.2],[9.3,-1.1],[9.2,-1.6],[9.4,-2.1],[10,-2.3],[10.3,-2.9],[16.2,-0.9],[12.5,-2.7],[8.4,-3],[7.9,-4],[9,-4],[8,-4],[8.9,-4],[5.8,-3.8],[6.3,-4.4],[6.7,-4.6],[6.5,-5.1],[6.3,-6.2],[7.2,-6.6],[8,-6.9],[4.6,-7.1],[3.3,-5.9],[4.5,-5.9],[5.1,-5.8],[-0.8,-7.5],[-0.2,-7],[-0.3,-7.3],[1.9,-7.5],[1.4,-6.9],[1.7,-9],
[1.6,0.9],[1.2,1.1],[2.1,0.9],[3,0.2],[3.5,0.9],[3.7,1.6],[4.2,0.3],[4.5,0.9],[0.7,1.4],[0.2,0.6],[0.3,0.2],[1.3,-0.1],[1.7,-0.3],[2.1,-0.7],[1.5,-1],[1,-1.2],[1.6,-1.6],[2.4,-1.5],[3.2,-0.9],[4.2,-1.5],[5.3,-1.2],[5.6,-2.3],[5,-3.1],[4.8,-2.3],[3.5,-2.5],[2.6,-3.1],[2.4,-2.6],[1.6,-3],[0.9,-3.1],[0.2,-2.9],[-0.3,-2.3],[-0.1,-1.5],[0.2,-1],[-1,-1.2],[-0.8,-1.9],[-1.4,-1.5],[1.4,-0.3],[1.6,-1.2],[2.1,-0.1],[1.2,0.6],[1.6,0.3],[1.9,-1],[1.4,-1.7],[2.1,-1.5],
[-1.4,-3.6],[-0.9,-4.3],[-0.5,-4.5],[0.2,-4.5],[0.7,-4.4],[1.2,-4.5],[1.7,-4.4],[2.3,-4.5],[2.9,-4.3],[3.7,-3.8],[4.2,-4.5],[4.6,-4.7],[5.2,-4.5],[5.3,-5.2],[5.6,-3.9],[-1.3,-5],[-0.6,-5.2],[0.1,-5.4],[0.9,-5.7],[1.6,-5.6],[1.3,-6.1],[2.9,-5],[3.6,-4.4],
[0.5,-0.5],[1,0.2],[2.6,0.3],[2.8,-0.3],[1,-2],[1.9,-2.2],[2.7,-2],[3.6,-1.2],[0.8,-0.3],[0,-0.5],[-0.4,0.6],[-1,1.8],[-2,1.5],[-2.8,0.8],[-3.2,0],[-3.5,-1],[-3,-1.8],[-2,-2],[-1,-3],[-0.2,-3.5],[0.5,-3.6],[-3,-4.6],[-1.5,-5.6],[-0.5,-6.2],[0.4,-6.5],[-3,-5],[-3.8,-3.8],[-4.4,-4.2],[-4.2,-0.8],[-3,2.5],[-4.3,3.5],[-3.6,2],[0,3],[0.5,2],[1.6,1.9],[2.8,1.9],[3,2.6],[3.7,2.5],[5,1.2],[4.8,-0.5],[3.8,-0.3],[6.6,0],[7.1,-1.4],[2.6,-3.8],[3,-5],[4,-5.2],[1.8,-5],[0.3,-4],[5,-4],[4.5,-3.6],[-6,1],[-5.8,2],[-5,-1],[-5.7,-2],[-6,-3],[-3.2,4.8],[-2,4.8],[-0.5,4],[0.5,4.5]];

const pradMetastatic=[[13.7,11.5]];

const SVG_NS='http://www.w3.org/2000/svg';

function linearScale(origin,pxPerUnit){
  return function(v){return origin+pxPerUnit*v;};
}

const brcaX=linearScale(375,11.1);
const brcaY=linearScale(317.4,-11.1);
const hnscX=linearScale(1484.5,7.98);
const hnscY=linearScale(263.5,-7.96);
const pradX=linearScale(850,14.37);
const pradY=linearScale(870.5,-14.3);

function make(tag,parent){
  const el=document.createElementNS(SVG_NS,tag);
  parent.appendChild(el);
  return el;
}

function drawGrid(group,prefix,frame,xScale,yScale,xTicks,yTicks,xMinor,yMinor){
  xMinor.forEach(function(v){
    const l=make('line',group);
    
    
    l.setAttribute('x1',xScale(v));l.setAttribute('x2',xScale(v));
    l.setAttribute('y1',frame.top);l.setAttribute('y2',frame.bottom);
    l.setAttribute('stroke','#efefef');l.setAttribute('stroke-width','1.2');
  });
  yMinor.forEach(function(v){
    const l=make('line',group);
    
    
    l.setAttribute('x1',frame.left);l.setAttribute('x2',frame.right);
    l.setAttribute('y1',yScale(v));l.setAttribute('y2',yScale(v));
    l.setAttribute('stroke','#efefef');l.setAttribute('stroke-width','1.2');
  });
  xTicks.forEach(function(v){
    const l=make('line',group);
    
    
    l.setAttribute('x1',xScale(v));l.setAttribute('x2',xScale(v));
    l.setAttribute('y1',frame.top);l.setAttribute('y2',frame.bottom);
    l.setAttribute('stroke','#fafafa');l.setAttribute('stroke-width','1.8');
  });
  yTicks.forEach(function(v){
    const l=make('line',group);
    
    
    l.setAttribute('x1',frame.left);l.setAttribute('x2',frame.right);
    l.setAttribute('y1',yScale(v));l.setAttribute('y2',yScale(v));
    l.setAttribute('stroke','#fafafa');l.setAttribute('stroke-width','1.8');
  });
}

function fmt(v){return (v<0?'\u2212':'')+Math.abs(v);}

function drawAxes(group,prefix,frame,xScale,yScale,xTicks,yTicks,opt){
  xTicks.forEach(function(v){
    const t=make('line',group);
    
    
    t.setAttribute('x1',xScale(v));t.setAttribute('x2',xScale(v));
    t.setAttribute('y1',frame.bottom);t.setAttribute('y2',frame.bottom+4);
    t.setAttribute('stroke','#444');t.setAttribute('stroke-width','1.5');
    const s=make('text',group);
    
    
    s.setAttribute('class','tick-label');
    s.setAttribute('text-anchor','middle');
    s.setAttribute('x',xScale(v)+(v<0?opt.negShift:0));
    s.setAttribute('y',opt.xBase);
    s.textContent=fmt(v);
  });
  yTicks.forEach(function(v){
    const t=make('line',group);
    
    
    t.setAttribute('x1',frame.left-4);t.setAttribute('x2',frame.left);
    t.setAttribute('y1',yScale(v));t.setAttribute('y2',yScale(v));
    t.setAttribute('stroke','#444');t.setAttribute('stroke-width','1.5');
    const s=make('text',group);
    
    
    s.setAttribute('class','tick-label');
    s.setAttribute('text-anchor','end');
    s.setAttribute('x',opt.yRight);
    s.setAttribute('y',yScale(v)+9.5);
    s.textContent=fmt(v);
  });
}

function drawPoints(group,name,points,xScale,yScale,color,r){
  points.forEach(function(p){
    const c=make('circle',group);
    
    
    c.setAttribute('cx',xScale(p[0]));
    c.setAttribute('cy',yScale(p[1]));
    c.setAttribute('r',r);
    c.setAttribute('fill',color);
    c.setAttribute('fill-opacity','0.66');
  });
}

const RED='#F8766D',GREEN='#00BA38',BLUE='#619CFF';

const gA=document.getElementById('panel-brca');
const frameA={left:107,right:680,top:58,bottom:492};
drawGrid(gA,'brca',frameA,brcaX,brcaY,brcaXTicks,brcaYTicks,brcaXMinor,brcaYMinor);
drawAxes(gA,'brca',frameA,brcaX,brcaY,brcaXTicks,brcaYTicks,{negShift:-11,xBase:521,yRight:96});
drawPoints(gA,'brca-normal-point',brcaNormal,brcaX,brcaY,RED,5.7);
drawPoints(gA,'brca-tumor-point',brcaTumor,brcaX,brcaY,GREEN,5.7);
drawPoints(gA,'brca-metastatic-point',brcaMetastatic,brcaX,brcaY,BLUE,5.7);

const gB=document.getElementById('panel-hnsc');
const frameB={left:1132,right:1706,top:87.5,bottom:461.5};
drawGrid(gB,'hnsc',frameB,hnscX,hnscY,hnscXTicks,hnscYTicks,hnscXMinor,hnscYMinor);
drawAxes(gB,'hnsc',frameB,hnscX,hnscY,hnscXTicks,hnscYTicks,{negShift:-3,xBase:491,yRight:1127});
drawPoints(gB,'hnsc-normal-point',hnscNormal,hnscX,hnscY,RED,5.6);
drawPoints(gB,'hnsc-tumor-point',hnscTumor,hnscX,hnscY,GREEN,5.6);
drawPoints(gB,'hnsc-metastatic-point',hnscMetastatic,hnscX,hnscY,BLUE,5.6);

const gC=document.getElementById('panel-prad');
const frameC={left:546,right:1119,top:660,bottom:1029};
drawGrid(gC,'prad',frameC,pradX,pradY,pradXTicks,pradYTicks,pradXMinor,pradYMinor);
drawAxes(gC,'prad',frameC,pradX,pradY,pradXTicks,pradYTicks,{negShift:-8,xBase:1057,yRight:534});
drawPoints(gC,'prad-normal-point',pradNormal,pradX,pradY,RED,5.4);
drawPoints(gC,'prad-tumor-point',pradTumor,pradX,pradY,GREEN,5.4);
drawPoints(gC,'prad-metastatic-point',pradMetastatic,pradX,pradY,BLUE,5);
</script>
</body>
</html>
